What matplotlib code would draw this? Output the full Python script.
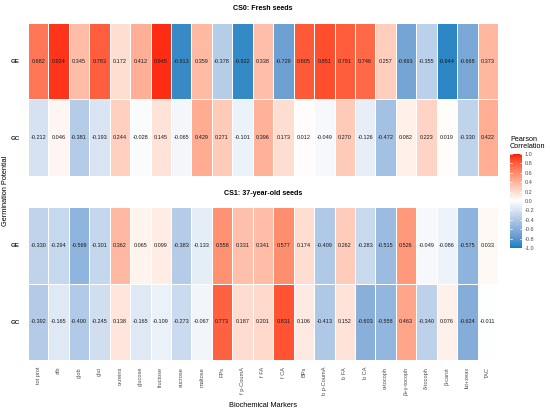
import numpy as np
import matplotlib
matplotlib.use("Agg")
import matplotlib.pyplot as plt
from matplotlib.colors import ListedColormap, Normalize, to_rgb

plt.rcParams['font.family'] = ['Liberation Sans', 'DejaVu Sans']

markers = ["tot prot", "alb", "glob", "glut", "α-zeins", "glucose", "fructose",
           "sucrose", "maltose", "FPs", "f p-CoumA", "f FA", "f CA", "BPs",
           "b p-CoumA", "b FA", "b CA", "α-tocoph", "β+γ-tocoph", "δ-tocoph",
           "β-carot", "lut+zeax", "TAC"]
rows = ["GE", "GC"]

cs0_ge = [0.682, 0.924, 0.345, 0.783, 0.172, 0.412, 0.945, -0.913, 0.359, -0.378,
          -0.922, 0.338, -0.729, 0.805, 0.851, 0.791, 0.746, 0.257, -0.693, -0.355,
          -0.944, -0.668, 0.373]
cs0_gc = [-0.212, 0.046, -0.381, -0.193, 0.244, -0.028, 0.145, -0.065, 0.429, 0.271,
          -0.101, 0.396, 0.173, 0.012, -0.049, 0.270, -0.126, -0.472, 0.082, 0.223,
          0.019, -0.330, 0.422]
cs1_ge = [-0.330, -0.294, -0.569, -0.301, 0.362, 0.065, 0.099, -0.383, -0.133, 0.558,
          0.331, 0.341, 0.577, 0.174, -0.409, 0.262, -0.283, -0.515, 0.526, -0.049,
          -0.086, -0.575, 0.033]
cs1_gc = [-0.392, -0.165, -0.400, -0.245, 0.138, -0.165, -0.109, -0.273, -0.067, 0.773,
          0.187, 0.201, 0.831, 0.106, -0.413, 0.152, -0.603, -0.558, 0.463, -0.340,
          0.076, -0.624, -0.011]

titles = ["CS0: Fresh seeds", "CS1: 37-year-old seeds"]
cbar_ticks = [-1.0, -0.8, -0.6, -0.4, -0.2, 0.0, 0.2, 0.4, 0.6, 0.8, 1.0]

# ---- Lab-interpolated diverging colormap (like ggplot scale_fill_gradient2) ----
def srgb_to_lab(c):
    c = np.asarray(c, float)
    lin = np.where(c <= 0.04045, c / 12.92, ((c + 0.055) / 1.055) ** 2.4)
    M = np.array([[0.4124, 0.3576, 0.1805],
                  [0.2126, 0.7152, 0.0722],
                  [0.0193, 0.1192, 0.9505]])
    xyz = M @ lin
    wp = np.array([0.95047, 1.0, 1.08883])
    t = xyz / wp
    f = np.where(t > 0.008856, np.cbrt(t), 7.787 * t + 16 / 116)
    L = 116 * f[1] - 16
    a = 500 * (f[0] - f[1])
    b = 200 * (f[1] - f[2])
    return np.array([L, a, b])

def lab_to_srgb(lab):
    L, a, b = lab
    fy = (L + 16) / 116
    fx = fy + a / 500
    fz = fy - b / 200
    def finv(f):
        return np.where(f ** 3 > 0.008856, f ** 3, (f - 16 / 116) / 7.787)
    wp = np.array([0.95047, 1.0, 1.08883])
    xyz = np.array([finv(fx), finv(fy), finv(fz)]) * wp
    Minv = np.array([[3.2406, -1.5372, -0.4986],
                     [-0.9689, 1.8758, 0.0415],
                     [0.0557, -0.2040, 1.0570]])
    lin = Minv @ xyz
    lin = np.clip(lin, 0, 1)
    c = np.where(lin <= 0.0031308, 12.92 * lin, 1.055 * lin ** (1 / 2.4) - 0.055)
    return np.clip(c, 0, 1)

low_lab = srgb_to_lab(to_rgb("#0080C2"))
mid_lab = srgb_to_lab(to_rgb("#FFFFFF"))
high_lab = srgb_to_lab(to_rgb("#FF0000"))
cols = []
for v in np.linspace(-1, 1, 512):
    if v < 0:
        lab = mid_lab + (low_lab - mid_lab) * (-v)
    else:
        lab = mid_lab + (high_lab - mid_lab) * v
    cols.append(lab_to_srgb(lab))
cmap = ListedColormap(cols)
norm = Normalize(-1, 1)

fig = plt.figure(figsize=(5.5, 4.11), dpi=100)
W, H = 550, 411

def ax_rect(l, t, r, b):
    return [l / W, 1 - b / H, (r - l) / W, (b - t) / H]

panels = [(np.array([cs0_ge, cs0_gc]), ax_rect(28, 23, 498, 176)),
          (np.array([cs1_ge, cs1_gc]), ax_rect(28, 207, 498, 360))]

for i, (data, rect) in enumerate(panels):
    ax = fig.add_axes(rect)
    ax.pcolormesh(np.arange(len(markers) + 1), np.arange(len(rows) + 1), data,
                  cmap=cmap, norm=norm, edgecolor="white", linewidth=0.6)
    ax.set_xlim(0, len(markers))
    ax.set_ylim(len(rows), 0)
    for r in range(len(rows)):
        for c in range(len(markers)):
            ax.text(c + 0.5, r + 0.5, f"{data[r, c]:.3f}", ha="center", va="center",
                    fontsize=4.0, color="#1a1a1a")
    for s in ax.spines.values():
        s.set_visible(False)
    ax.set_yticks(np.arange(len(rows)) + 0.5)
    ax.set_yticklabels(rows, fontsize=4.4, fontweight="bold", color="#222222")
    ax.tick_params(length=0, pad=6)
    ax.set_xticks(np.arange(len(markers)) + 0.5)
    if i == 1:
        ax.set_xticklabels(markers, rotation=90, fontsize=4.1, color="#4D4D4D", va="top")
        ax.tick_params(axis="x", pad=5)
    else:
        ax.set_xticklabels([])
    fig.text(263 / W, 1 - (9 if i == 0 else 193) / H, titles[i], ha="center", va="center",
             fontsize=5.1, fontweight="bold")

fig.text(263 / W, 1 - 405 / H, "Biochemical Markers", ha="center", va="center", fontsize=5.3)
fig.text(6 / W, 1 - 191 / H, "Germination Potential", ha="center", va="center",
         fontsize=5.3, rotation=90)

cax = fig.add_axes(ax_rect(510, 154, 522, 248))
grad = np.linspace(-1, 1, 300).reshape(-1, 1)
cax.imshow(grad, aspect="auto", cmap=cmap, norm=norm, origin="lower",
           extent=[0, 1, -1, 1])
for s in cax.spines.values():
    s.set_visible(False)
cax.set_xticks([])
cax.set_yticks(cbar_ticks)
cax.yaxis.tick_right()
cax.set_yticklabels([f"{t:.1f}" for t in cbar_ticks], fontsize=4.0, color="#4D4D4D")
cax.tick_params(axis="y", length=0, pad=2)
for t in cbar_ticks:
    cax.plot([0, 0.2], [t, t], color="white", lw=0.5)
    cax.plot([0.8, 1], [t, t], color="white", lw=0.5)
cax.set_xlim(0, 1)
cax.set_ylim(-1, 1)
fig.text(510 / W, 1 - 143 / H, "Pearson\nCorrelation", ha="left", va="center",
         fontsize=5.2, linespacing=1.1)

fig.savefig("out.png", dpi=100, facecolor="white")
